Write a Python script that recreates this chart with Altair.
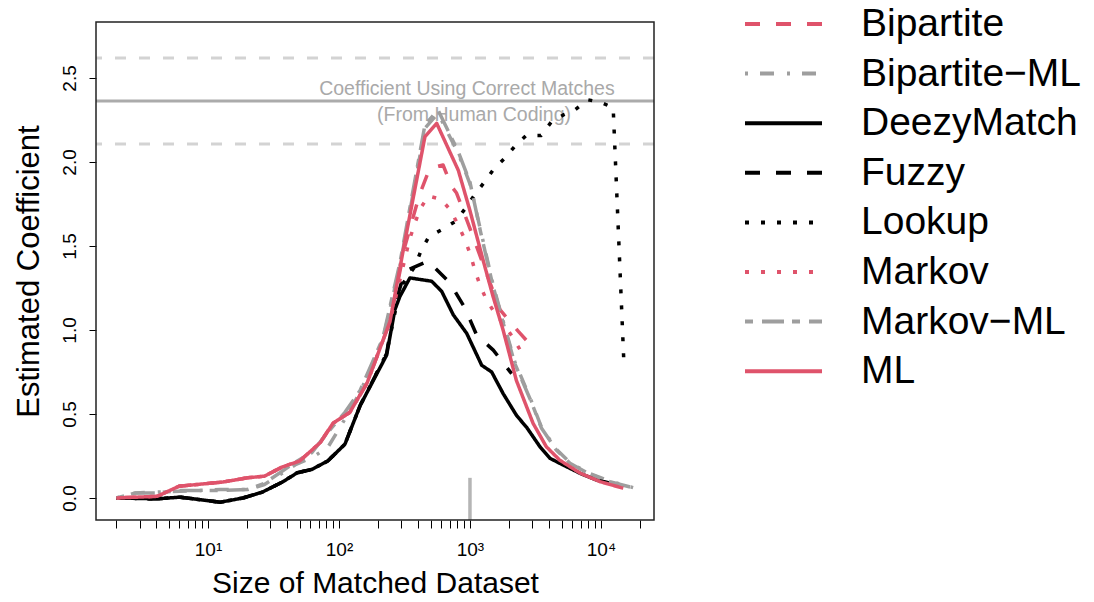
import altair as alt
import pandas as pd

# ---- data ----
names = ["Bipartite", "Bipartite\u2212ML", "DeezyMatch", "Fuzzy", "Lookup", "Markov", "Markov\u2212ML", "ML"]
colors = ["#DF536B", "#9E9E9E", "#000000", "#000000", "#000000", "#DF536B", "#9E9E9E", "#DF536B"]
dashes = [[15, 16], [3, 12, 14, 13], [1, 0], [15, 16], [4, 12], [4, 12], [8, 9, 22, 8], [1, 0]]

n_low = [2, 4.1, 6.1, 12.4, 18.5, 26, 37, 48, 62, 82, 111, 145, 231]
v_black_low = [0, -0.005, 0.005, -0.025, 0, 0.035, 0.095, 0.15, 0.17, 0.22, 0.32, 0.55, 0.85]

n_ml = [2, 4.1, 6, 13, 20, 27, 37, 50, 72, 90, 121, 164, 245, 319, 453, 557, 815, 1000, 1260, 1500,
        1790, 2260, 3030, 3830, 4850, 6970, 9860, 14800]
v_ml = [0, 0.01, 0.07, 0.095, 0.12, 0.13, 0.185, 0.22, 0.33, 0.445, 0.51, 0.685, 1.05, 1.53, 2.15, 2.23,
        1.95, 1.71, 1.415, 1.2, 1.0, 0.70, 0.445, 0.305, 0.225, 0.147, 0.097, 0.058]

n_bip = n_ml[:13] + [319, 410, 493, 623, 725, 790, 945, 1125, 1380, 1700, 2350, 3230]
v_bip = v_ml[:13] + [1.5, 1.8, 1.962, 1.982, 1.853, 1.815, 1.655, 1.496, 1.308, 1.119, 0.99, 0.871]

n_mkv = n_ml[:13] + [345, 376, 415, 480, 600, 710, 800, 905, 1000, 1090, 1190, 1330, 1550, 1790, 2150, 2420]
v_mkv = v_ml[:13] + [1.536, 1.625, 1.718, 1.798, 1.778, 1.714, 1.635, 1.546, 1.456, 1.357, 1.268, 1.183,
                     1.099, 1.04, 0.95, 0.88]

n_dm = n_low + [267, 292, 348, 510, 608, 746, 944, 1229, 1464, 1796, 2273, 2711, 3422, 4080, 5155,
                6918, 9270, 13560]
v_dm = v_black_low + [1.12, 1.2, 1.31, 1.29, 1.23, 1.09, 0.98, 0.79, 0.75, 0.62, 0.49, 0.42, 0.305,
                      0.236, 0.196, 0.147, 0.107, 0.077]

n_fz = n_low + [267, 319, 480, 703, 916, 1125, 1507, 2080]
v_fz = v_black_low[:12] + [0.86, 1.15, 1.35, 1.41, 1.28, 1.13, 0.97, 0.88, 0.74]

n_lk = n_low + [292, 381, 422, 486, 620, 780, 915, 1075, 1280, 1500, 1830, 2200, 2680, 3480, 4160,
                5150, 6330, 7950, 9930, 12400, 15000]
v_lk = v_black_low[:12] + [0.86, 1.25, 1.38, 1.47, 1.556, 1.60, 1.648, 1.72, 1.80, 1.877, 1.952, 2.02,
                           2.093, 2.157, 2.157, 2.236, 2.28, 2.31, 2.37, 2.355, 2.323, 0.787]

n_gml = [2, 2.8, 4.1, 6.1, 12.4, 20, 27, 47, 62, 82, 111, 145, 216, 292, 453, 570, 815, 1000, 1200,
         1500, 1780, 2200, 2900, 3520, 4560, 5800, 7950, 11700, 17600]
v_mml = [0, 0.03, 0.03, 0.045, 0.045, 0.05, 0.087, 0.216, 0.27, 0.39, 0.51, 0.64, 0.95, 1.4, 2.22, 2.31,
         2.06, 1.88, 1.59, 1.26, 1.05, 0.80, 0.583, 0.415, 0.286, 0.207, 0.147, 0.097, 0.061]
v_bml = [0, 0.03, 0.035, 0.04, 0.05, 0.05, 0.08, 0.2, 0.24, 0.30, 0.47, 0.63, 0.94, 1.38, 2.2, 2.29,
         2.05, 1.87, 1.6, 1.27, 1.06, 0.81, 0.59, 0.42, 0.29, 0.21, 0.15, 0.10, 0.062]

truth = 2.363
truth_band = [2.619, 2.107]
note_lines = ["Coefficient Using Correct Matches", "(From Human Coding)"]
note_x = [948, 1074]
note_y = [2.40, 2.244]
marker_x = 1000
marker_y = [0.12, -0.131]

series = {
    "Bipartite": (n_bip, v_bip),
    "Bipartite\u2212ML": (n_gml, v_bml),
    "DeezyMatch": (n_dm, v_dm),
    "Fuzzy": (n_fz, v_fz),
    "Lookup": (n_lk, v_lk),
    "Markov": (n_mkv, v_mkv),
    "Markov\u2212ML": (n_gml, v_mml),
    "ML": (n_ml, v_ml),
}

rows = []
for i, name in enumerate(names):
    ns, vs = series[name]
    for n, v in zip(ns, vs):
        rows.append({"series": name, "n": n, "v": v, "k": i})
df = pd.DataFrame(rows)

FONT = "Liberation Sans"
W, H = 558, 498
x_scale = alt.Scale(type="log", domain=[1.396, 25410], nice=False)
y_scale = alt.Scale(domain=[-0.131, 2.833], nice=False, zero=False)

x_ticks = [2, 3, 4, 5, 6, 7, 8, 9, 10, 20, 30, 40, 50, 60, 70, 80, 90, 100, 200, 300, 400, 500, 600,
           700, 800, 900, 1000, 2000, 3000, 4000, 5000, 6000, 7000, 8000, 9000, 10000, 20000]
label_expr = ("datum.value == 10 ? '10\u00b9' : datum.value == 100 ? '10\u00b2' : "
              "datum.value == 1000 ? '10\u00b3' : datum.value == 10000 ? '10\u2074' : ''")

x_axis = alt.Axis(values=x_ticks, labelExpr=label_expr, grid=False, domain=False, tickSize=8,
                  tickColor="black", labelFontSize=19, labelFont=FONT, labelColor="black",
                  labelBaseline="alphabetic", labelPadding=27, labelOverlap=False, labelFlush=False,
                  title="Size of Matched Dataset", titleFontSize=30, titleFont=FONT,
                  titleFontWeight="normal", titleColor="black", titleX=279, titleY=72,
                  titleBaseline="alphabetic", titleAlign="center")
y_axis = alt.Axis(values=[0, 0.5, 1, 1.5, 2, 2.5], format=".1f", grid=False, domain=False, tickSize=7,
                  tickColor="black", labelAngle=-90, labelAlign="center", labelBaseline="alphabetic",
                  labelPadding=14, labelFontSize=19, labelFont=FONT, labelColor="black",
                  title="Estimated Coefficient", titleFontSize=31, titleFont=FONT,
                  titleFontWeight="normal", titleColor="black", titleAngle=-90, titleX=-58, titleY=249,
                  titleBaseline="alphabetic", titleAlign="center")

legend = alt.Legend(orient="none", legendX=647, legendY=-18, symbolType="stroke", symbolSize=5929,
                    symbolStrokeWidth=4, labelFontSize=39, labelFont=FONT, labelColor="black",
                    labelOffset=37, clipHeight=40, rowPadding=9.6, padding=0, labelLimit=600)

lines = alt.Chart(df).mark_line(strokeWidth=3.5, strokeJoin="round").encode(
    x=alt.X("n:Q", scale=x_scale, axis=x_axis),
    y=alt.Y("v:Q", scale=y_scale, axis=y_axis),
    color=alt.Color("series:N", scale=alt.Scale(domain=names, range=colors), legend=legend, title=None),
    strokeDash=alt.StrokeDash("series:N", scale=alt.Scale(domain=names, range=dashes), legend=legend,
                              title=None),
    detail="series:N",
)

band = alt.Chart(pd.DataFrame({"v": truth_band})).mark_rule(
    color="#D3D3D3", strokeWidth=3, strokeDash=[11, 13]).encode(y=alt.Y("v:Q", scale=y_scale))
solid = alt.Chart(pd.DataFrame({"v": [truth]})).mark_rule(
    color="#ABABAB", strokeWidth=3).encode(y=alt.Y("v:Q", scale=y_scale))
notes = alt.Chart(pd.DataFrame({"t": note_lines, "x": note_x, "y": note_y})).mark_text(
    font=FONT, fontSize=19.5, color="#A9A9A9", baseline="alphabetic", align="center").encode(
    x=alt.X("x:Q", scale=x_scale), y=alt.Y("y:Q", scale=y_scale), text="t:N")
marker = alt.Chart(pd.DataFrame({"x": [marker_x], "y": [marker_y[0]], "y2": [marker_y[1]]})).mark_rule(
    color="#B5B5B5", strokeWidth=3.5).encode(
    x=alt.X("x:Q", scale=x_scale), y=alt.Y("y:Q", scale=y_scale), y2="y2:Q")
frame = alt.Chart(pd.DataFrame({"f": [0]})).mark_rect(
    filled=False, stroke="#222222", strokeWidth=1.5).encode(
    x=alt.value(0), x2=alt.value(W), y=alt.value(0), y2=alt.value(H))

chart = alt.layer(band, solid, notes, marker, lines, frame).properties(
    width=W, height=H, autosize="none", background="white",
    padding={"left": 96, "top": 22, "right": 440, "bottom": 82},
).configure_view(stroke=None)

chart.save("out.html", embed_options={"renderer": "svg", "actions": False})
